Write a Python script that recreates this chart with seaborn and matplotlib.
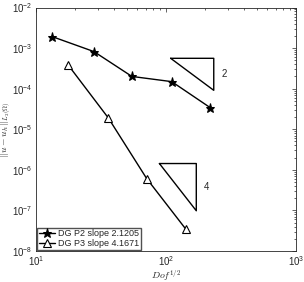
import numpy as np
import pandas as pd
import matplotlib
matplotlib.use("Agg")
import matplotlib.pyplot as plt
import seaborn as sns

# data
dof_p2 = [13.3, 27.9, 54.7, 110.7, 219.0]
err_p2 = [1.92e-3, 8.2e-4, 2.0e-4, 1.49e-4, 3.4e-5]
dof_p3 = [17.6, 36.0, 71.0, 142.6]
err_p3 = [3.9e-4, 1.9e-5, 6.1e-7, 3.4e-8]
labels = ["DG P2 slope 2.1205", "DG P3 slope 4.1671"]

# slope triangles: [x_left, x_right], [y_top, y_bottom]
tri_x2 = [108.6, 233.0]
tri_y2 = [5.6e-4, 9.1e-5]
tri_x4 = [89.0, 171.0]
tri_y4 = [1.43e-6, 9.8e-8]

sns.set_style("white")
plt.rcParams["font.family"] = ["Liberation Sans", "DejaVu Sans"]
plt.rcParams["mathtext.fontset"] = "cm"

fig = plt.figure(figsize=(3.04, 2.82), dpi=100)
ax = fig.add_axes([36 / 304, 31 / 282, 260 / 304, 243.5 / 282])

df2 = pd.DataFrame({"x": dof_p2, "y": err_p2})
df3 = pd.DataFrame({"x": dof_p3, "y": err_p3})
sns.lineplot(data=df2, x="x", y="y", ax=ax, color="black", lw=1.0,
             marker="*", markersize=6.5, markerfacecolor="black",
             markeredgecolor="black", label=labels[0])
sns.lineplot(data=df3, x="x", y="y", ax=ax, color="black", lw=1.0,
             marker="^", markersize=5.5, markerfacecolor="white",
             markeredgecolor="black", markeredgewidth=0.8, label=labels[1])

for tx, ty, lab in [(tri_x2, tri_y2, "2"), (tri_x4, tri_y4, "4")]:
    ax.plot([tx[0], tx[1], tx[1], tx[0]], [ty[0], ty[0], ty[1], ty[0]],
            color="black", lw=1.0)
    ax.text(tx[1] * 1.15, np.sqrt(ty[0] * ty[1]), lab, fontsize=7,
            va="center", ha="left")

ax.set_xscale("log")
ax.set_yscale("log")
ax.set_xlim(10, 1000)
ax.set_ylim(1e-8, 1e-2)
ax.set_xlabel(r"$Dof^{1/2}$", fontsize=7)
ax.set_ylabel(r"$||u-u_h||_{L_2(\Omega)}$", fontsize=7)
ax.xaxis.set_label_coords(0.5, -0.1)
ax.yaxis.set_label_coords(-0.115, 0.5)
ax.xaxis.label.set_va("center")
ax.yaxis.label.set_va("center")
ax.tick_params(which="both", direction="in", top=True, right=True,
               labelsize=7, colors="#262626", width=0.5, pad=2.5)
ax.tick_params(which="major", length=3)
ax.tick_params(which="minor", length=1.5)
for s in ax.spines.values():
    s.set_color("#262626")
    s.set_linewidth(0.6)

ax.legend(loc="lower left", fontsize=6.5, frameon=True, fancybox=False,
          edgecolor="#262626", borderpad=0.2, labelspacing=0.1,
          handlelength=1.8, handletextpad=0.3, borderaxespad=0.1)

fig.savefig("out.png", dpi=100)
